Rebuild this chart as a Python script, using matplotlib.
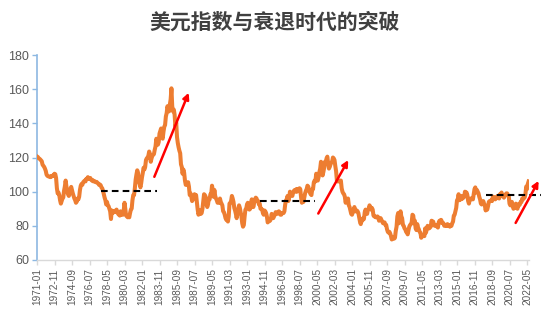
import matplotlib
matplotlib.use("Agg")
import matplotlib.pyplot as plt
import pandas as pd

plt.rcParams['font.family'] = ['Liberation Sans', 'DejaVu Sans']

title = "美元指数与衰退时代的突破"
start_month = "1971-01"

# monthly US dollar index values, 1971-01 .. 2022-07
v1971 = [120.6, 120.3, 119.6, 119.3, 118.9, 118.3, 117.8, 115.8, 115.2, 114.5, 113.5, 112.2]
v1972 = [110.0, 109.3, 109.0, 108.9, 108.6, 108.5, 109.2, 109.0, 109.5, 109.3, 110.5, 110.2]
v1973 = [108.0, 102.0, 99.0, 99.5, 98.0, 95.0, 93.0, 94.5, 96.0, 96.5, 100.5, 103.0]
v1974 = [106.5, 103.0, 100.5, 98.5, 97.5, 98.8, 101.5, 102.8, 100.8, 99.0, 97.5, 96.0]
v1975 = [95.0, 93.5, 94.2, 96.0, 95.5, 97.0, 101.0, 103.5, 104.5, 104.0, 105.5, 106.0]
v1976 = [106.5, 106.0, 107.5, 107.5, 108.5, 107.5, 107.8, 108.0, 107.0, 106.5, 106.8, 106.0]
v1977 = [106.2, 106.0, 105.5, 105.7, 105.2, 104.8, 104.0, 104.2, 103.8, 102.5, 102.0, 100.5]
v1978 = [98.5, 96.5, 95.0, 92.5, 94.0, 92.0, 91.5, 90.0, 88.5, 84.0, 89.0, 87.5]
v1979 = [88.0, 88.5, 88.0, 89.0, 89.5, 88.0, 87.0, 86.5, 86.0, 88.5, 87.5, 86.5]
v1980 = [86.5, 89.0, 93.5, 90.0, 86.0, 85.5, 85.0, 85.5, 85.0, 87.5, 89.5, 90.0]
v1981 = [95.0, 98.0, 98.0, 102.0, 107.0, 110.0, 112.5, 111.0, 106.0, 104.5, 102.5, 105.0]
v1982 = [108.5, 111.0, 114.0, 113.0, 114.5, 118.5, 119.5, 120.0, 121.0, 123.5, 122.0, 117.5]
v1983 = [119.5, 121.0, 121.5, 122.0, 124.5, 126.5, 131.0, 130.0, 127.5, 129.0, 134.0, 135.5]
v1984 = [137.0, 132.0, 131.0, 135.0, 138.0, 139.0, 144.0, 146.0, 150.0, 148.0, 147.0, 151.0]
v1985 = [154.0, 160.5, 150.0, 147.0, 148.0, 145.0, 138.0, 140.5, 132.0, 128.5, 126.0, 124.0]
v1986 = [122.5, 116.0, 114.5, 110.5, 113.0, 111.0, 106.5, 104.0, 104.0, 105.5, 105.5, 103.0]
v1987 = [98.0, 99.0, 97.0, 94.5, 95.5, 97.0, 98.5, 97.5, 98.0, 93.5, 89.5, 86.5]
v1988 = [88.0, 89.0, 87.0, 87.5, 90.0, 94.5, 98.5, 98.0, 97.0, 93.0, 91.0, 92.5]
v1989 = [96.0, 95.5, 98.5, 98.5, 103.5, 101.0, 97.0, 101.0, 97.5, 96.0, 95.0, 93.5]
v1990 = [93.5, 93.5, 96.0, 94.0, 93.0, 92.0, 88.5, 88.0, 86.5, 84.5, 83.5, 84.0]
v1991 = [82.5, 85.5, 93.0, 93.5, 94.5, 97.5, 96.0, 94.0, 90.5, 89.0, 87.0, 84.5]
v1992 = [87.5, 90.0, 92.0, 90.5, 88.0, 85.5, 81.5, 79.5, 80.5, 85.5, 89.5, 90.0]
v1993 = [92.5, 93.5, 91.5, 89.5, 90.0, 93.0, 95.5, 92.5, 91.0, 93.5, 95.5, 96.5]
v1994 = [96.0, 94.5, 94.5, 92.5, 93.0, 90.0, 90.0, 89.5, 87.5, 86.5, 89.0, 88.5]
v1995 = [87.5, 85.5, 82.0, 82.5, 83.5, 83.0, 84.0, 87.0, 85.5, 84.5, 85.5, 86.5]
v1996 = [88.0, 87.5, 87.0, 88.0, 88.5, 88.0, 86.5, 86.5, 87.5, 87.5, 87.5, 88.5]
v1997 = [92.5, 95.0, 95.5, 97.5, 94.5, 96.5, 100.0, 99.0, 98.0, 97.5, 99.5, 100.5]
v1998 = [101.0, 100.0, 101.5, 100.0, 101.5, 101.5, 102.0, 101.5, 96.5, 93.5, 95.0, 94.0]
v1999 = [96.5, 99.0, 100.5, 101.5, 103.5, 103.0, 100.5, 99.5, 98.5, 98.0, 101.5, 101.5]
v2000 = [105.5, 106.5, 106.0, 110.5, 108.0, 106.5, 108.5, 111.5, 113.5, 117.5, 115.0, 109.5]
v2001 = [111.5, 114.0, 117.5, 116.5, 119.5, 120.5, 116.5, 113.5, 114.5, 116.0, 117.0, 117.5]
v2002 = [120.0, 119.5, 118.5, 115.0, 112.0, 106.5, 106.0, 106.0, 106.5, 106.0, 106.5, 102.0]
v2003 = [100.0, 99.0, 98.5, 97.0, 93.5, 95.0, 95.0, 96.0, 92.0, 91.0, 89.0, 87.0]
v2004 = [86.5, 88.0, 88.5, 91.0, 88.5, 88.5, 89.0, 88.5, 87.5, 85.0, 82.5, 81.0]
v2005 = [84.0, 83.0, 84.5, 84.0, 88.0, 89.5, 88.5, 87.0, 89.5, 90.0, 92.0, 91.0]
v2006 = [89.5, 90.5, 89.5, 86.0, 85.5, 85.5, 85.0, 85.0, 85.5, 85.0, 83.0, 83.5]
v2007 = [84.5, 83.5, 82.5, 81.5, 82.0, 82.0, 80.5, 80.5, 78.0, 76.5, 76.0, 76.5]
v2008 = [75.5, 74.0, 72.0, 73.5, 73.0, 72.5, 73.0, 77.0, 79.5, 85.5, 87.5, 81.5]
v2009 = [86.0, 88.5, 85.5, 84.5, 80.5, 80.0, 78.5, 78.0, 76.5, 76.0, 75.0, 77.5]
v2010 = [79.5, 80.5, 81.0, 82.0, 86.5, 86.0, 81.5, 83.0, 78.5, 77.5, 81.0, 79.0]
v2011 = [78.0, 76.5, 76.0, 73.0, 74.5, 74.0, 74.0, 74.0, 78.5, 76.0, 78.0, 80.0]
v2012 = [79.0, 78.5, 79.0, 79.5, 83.0, 82.0, 82.5, 81.0, 80.0, 80.0, 80.5, 79.5]
v2013 = [79.0, 82.0, 83.0, 82.0, 83.5, 82.5, 81.5, 81.5, 80.0, 80.0, 80.5, 80.0]
v2014 = [81.0, 80.0, 80.0, 79.5, 80.5, 80.0, 81.5, 82.5, 86.0, 86.5, 88.5, 90.5]
v2015 = [95.0, 95.5, 98.5, 95.0, 97.0, 95.5, 97.5, 96.0, 96.5, 97.0, 100.0, 98.5]
v2016 = [99.5, 98.0, 94.5, 93.0, 95.5, 96.0, 95.5, 96.0, 95.5, 98.5, 101.5, 102.5]
v2017 = [99.5, 101.0, 100.0, 99.0, 97.0, 95.5, 93.0, 92.5, 93.0, 94.5, 93.0, 92.0]
v2018 = [89.0, 90.5, 89.5, 91.5, 94.0, 94.5, 94.5, 95.0, 94.5, 97.0, 97.0, 96.0]
v2019 = [95.5, 96.0, 97.0, 97.5, 97.5, 96.0, 98.5, 98.5, 99.5, 97.5, 98.0, 96.5]
v2020 = [97.5, 98.0, 99.0, 99.0, 98.0, 97.5, 93.0, 92.0, 94.0, 94.0, 91.5, 90.0]
v2021 = [90.5, 90.5, 93.0, 91.0, 90.0, 92.5, 92.0, 92.5, 94.0, 94.0, 96.0, 95.5]
v2022 = [96.5, 96.5, 98.5, 103.0, 101.5, 104.5, 106.0]

values = (v1971 + v1972 + v1973 + v1974 + v1975 + v1976 + v1977 + v1978 + v1979 + v1980 +
          v1981 + v1982 + v1983 + v1984 + v1985 + v1986 + v1987 + v1988 + v1989 + v1990 +
          v1991 + v1992 + v1993 + v1994 + v1995 + v1996 + v1997 + v1998 + v1999 + v2000 +
          v2001 + v2002 + v2003 + v2004 + v2005 + v2006 + v2007 + v2008 + v2009 + v2010 +
          v2011 + v2012 + v2013 + v2014 + v2015 + v2016 + v2017 + v2018 + v2019 + v2020 +
          v2021 + v2022)
months = [p.strftime("%Y-%m") for p in pd.period_range(start_month, periods=len(values), freq="M")]
label_step = 22

# annotation levels (horizontal dashed lines) : start month index, end month index, level
dash_start = [81, 280, 564]
dash_end = [150.5, 349.5, 634]
dash_level = [100.2, 94.4, 97.9]
# red arrows: tail (month index, value) -> head (month index, value)
arrow_x0 = [147.5, 353.6, 601.7]
arrow_y0 = [108.7, 87.2, 81.7]
arrow_x1 = [190.7, 391.3, 630.6]
arrow_y1 = [157.9, 118.5, 106.3]

yticks = [60, 80, 100, 120, 140, 160, 180]

fig = plt.figure(figsize=(5.5, 3.29), dpi=100)
ax = fig.add_axes([37/550, 1-260/329, (528.6-37)/550, (260-55)/329])

x = list(range(len(values)))
ax.plot(x, values, color='#ED7D31', lw=2.9, solid_joinstyle='round', zorder=3)

for s, e, lv in zip(dash_start, dash_end, dash_level):
    ax.plot([s, e], [lv, lv], color='black', lw=1.5, ls=(0, (3.2, 2.0)), zorder=4, clip_on=False)

for a, b, c, d in zip(arrow_x0, arrow_y0, arrow_x1, arrow_y1):
    ax.annotate('', xy=(c, d), xytext=(a, b), annotation_clip=False,
                arrowprops=dict(arrowstyle='-|>', color='#FF0000', lw=1.8,
                                mutation_scale=9, shrinkA=0, shrinkB=0), zorder=5)

ax.set_xlim(0, len(values) - 1)
ax.set_ylim(60, 180)
ax.set_yticks(yticks)
ax.set_yticklabels([str(t) for t in yticks])
tick_pos = list(range(0, len(values), label_step))
ax.set_xticks(tick_pos)
ax.set_xticklabels([months[i] for i in tick_pos], rotation=90)

for s in ['top', 'right']:
    ax.spines[s].set_visible(False)
ax.spines['left'].set_color('#8DB8E2')
ax.spines['left'].set_linewidth(1.2)
ax.spines['bottom'].set_color('#D9D9D9')
ax.spines['bottom'].set_linewidth(1.0)
ax.tick_params(axis='y', colors='#8DB8E2', length=3.5, width=1.0, pad=2,
               labelsize=9, labelcolor='#595959')
ax.tick_params(axis='x', colors='#D9D9D9', length=3.5, width=1.0, pad=2.5,
               labelsize=7.2, labelcolor='#595959')

fig.text(0.5, 1 - 22/329, title, ha='center', va='center', fontsize=15,
         fontweight='bold', color='#404040', family=['Noto Sans CJK SC', 'DejaVu Sans'])

fig.savefig('out.png', dpi=100)
